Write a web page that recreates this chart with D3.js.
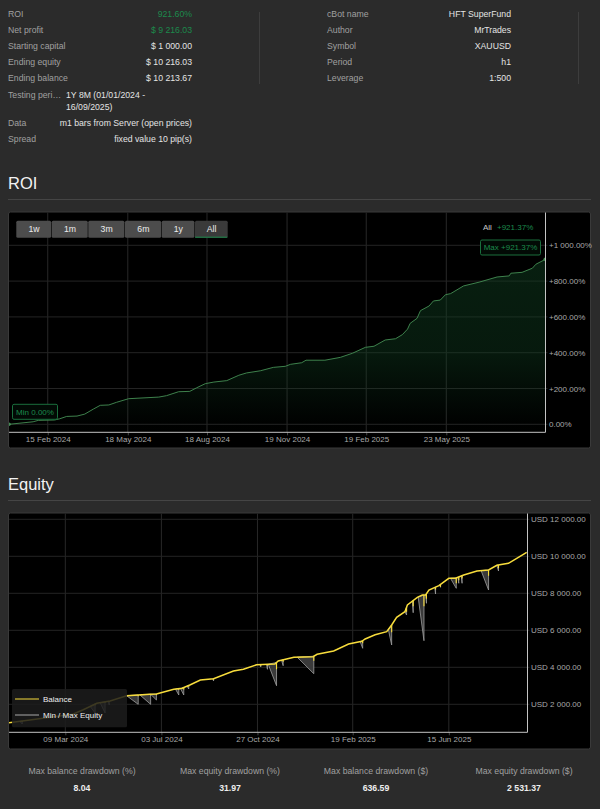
<!DOCTYPE html>
<html>
<head>
<meta charset="utf-8">
<script src="https://cdn.jsdelivr.net/npm/d3@7"></script>
<style>
  html, body { margin: 0; padding: 0; background: #2b2b2b; }
  svg { display: block; font-family: "Liberation Sans", Arial, sans-serif; }
  .domain { display: none; }
  .tick text { fill: #a8a8a8; font-size: 8px; }
</style>
</head>
<body>
<div id="chart"></div>
<script>
// days are counted from the first day of the test, 01/01/2024
const roiDays = [0, 28, 34, 53, 59, 67, 79, 88, 98, 106, 116, 125, 139, 174, 183, 197, 210, 218, 228, 238, 253, 267, 276, 292, 307, 321, 327, 340, 345, 367, 385, 399, 414, 424, 437, 449, 457, 463, 466, 474, 478, 488, 493, 501, 507, 513, 528, 546, 567, 581, 583, 596, 608, 612, 623];
const roiValues = [0, 14, 22, 24, 31, 44, 46, 57, 85, 106, 108, 123, 143, 152, 160, 182, 184, 204, 227, 236, 244, 274, 287, 299, 318, 324, 335, 344, 358, 358, 374, 397, 430, 436, 471, 478, 501, 532, 564, 592, 635, 661, 689, 694, 724, 730, 773, 794, 823, 829, 844, 849, 872, 894, 921.37];

const balanceDays = [0, 41, 77, 89, 106, 122, 142, 156, 170, 178, 199, 209, 219, 231, 247, 271, 283, 299, 321, 325, 344, 367, 372, 392, 410, 426, 430, 442, 456, 462, 468, 478, 481, 493, 499, 503, 507, 519, 531, 539, 549, 565, 579, 589, 603, 613, 625];
const balanceValues = [1000, 1243, 1460, 1692, 2054, 2178, 2465, 2503, 2540, 2557, 2811, 2865, 3059, 3313, 3384, 3800, 3897, 4140, 4178, 4340, 4540, 4573, 4703, 4881, 5259, 5405, 5530, 5762, 5924, 6286, 6702, 7005, 7367, 7783, 7908, 7908, 8178, 8411, 8811, 8811, 8989, 9205, 9259, 9513, 9621, 9892, 10213.67];

// min equity drops: first day, last day, lowest equity, balance after the closing loss
const dipStarts = [13, 98, 110, 120, 142, 158, 171, 201, 207, 215, 246, 303, 311, 313, 329, 348, 424, 458, 478, 487, 494, 503, 514, 520, 533, 542, 546, 570, 589];
const dipEnds = [16, 104, 116, 121, 156, 171, 178, 205, 211, 217, 247, 304, 312, 323, 331, 368, 427, 462, 480, 488, 501, 504, 515, 521, 540, 543, 547, 579, 591];
const dipLows = [935, 1530, 1530, 1962, 2000, 2000, 2232, 2503, 2503, 2827, 3259, 4016, 3892, 3005, 4086, 3654, 5027, 5205, 6827, 6951, 5437, 7459, 7962, 8324, 8270, 8541, 8541, 8178, 9205];
const dipBalanceLows = [1060, 1950, 2080, 2120, 2440, 2490, 2500, 2780, 2800, 2960, 3340, 4090, 4100, 3900, 4300, 4350, 5300, 5900, 7000, 7300, 7300, 7700, 8200, 8350, 8550, 8700, 8800, 8950, 9350];

const roiTickDays = [45, 138, 230, 323, 415, 508];
const roiTicks = [0, 200, 400, 600, 800, 1000];
const equityTickDays = [68, 184, 300, 415, 531];
const equityTicks = [2000, 4000, 6000, 8000, 10000, 12000];

const leftRows = [["ROI", "921.60%"], ["Net profit", "$ 9 216.03"], ["Starting capital", "$ 1 000.00"], ["Ending equity", "$ 10 216.03"], ["Ending balance", "$ 10 213.67"]];
const rightRows = [["cBot name", "HFT SuperFund"], ["Author", "MrTrades"], ["Symbol", "XAUUSD"], ["Period", "h1"], ["Leverage", "1:500"]];
const rangeButtons = ["1w", "1m", "3m", "6m", "1y", "All"];
const buttonEdges = [16.3, 51.7, 88.3, 125, 161.7, 195, 228.3];
const drawdownLabels = ["Max balance drawdown (%)", "Max equity drawdown (%)", "Max balance drawdown ($)", "Max equity drawdown ($)"];
const drawdownValues = ["8.04", "31.97", "636.59", "2 531.37"];
const drawdownCenters = [82, 230, 376, 524];

const GREEN = "#1c8a4c";
const LABEL = "#a0a0a0";
const VALUE = "#e4e4e4";
const YELLOW = "#f7dc3c";

const locale = d3.formatLocale({ decimal: ".", thousands: " ", grouping: [3], currency: ["$", ""] });
const money = locale.format(",.2f");
const dateLabel = d3.utcFormat("%d %b %Y");
const firstDay = new Date(Date.UTC(2024, 0, 1));
const toDate = d => d3.utcDay.offset(firstDay, d);

const svg = d3.select("#chart").append("svg").attr("width", 600).attr("height", 809);
const defs = svg.append("defs");

const text = (x, y, s, o = {}) => svg.append("text")
  .attr("x", x).attr("y", y)
  .attr("fill", o.fill || VALUE)
  .attr("font-size", o.size || 8.7)
  .attr("font-weight", o.weight || null)
  .attr("text-anchor", o.anchor || "start")
  .attr("dominant-baseline", "central")
  .text(s);

// summary tables
const rowY = [13.5, 30, 46, 62, 78];
leftRows.forEach((r, i) => {
  text(8, rowY[i], r[0], { fill: LABEL });
  text(192, rowY[i], r[1], { anchor: "end", fill: i < 2 ? GREEN : VALUE });
});
rightRows.forEach((r, i) => {
  text(327, rowY[i], r[0], { fill: LABEL });
  text(511, rowY[i], r[1], { anchor: "end" });
});
text(8, 94.5, "Testing peri…", { fill: LABEL });
text(66, 94.5, "1Y 8M (01/01/2024 -");
text(66, 106.5, "16/09/2025)");
text(8, 122.5, "Data", { fill: LABEL });
text(192, 122.5, "m1 bars from Server (open prices)", { anchor: "end" });
text(8, 139, "Spread", { fill: LABEL });
text(192, 139, "fixed value 10 pip(s)", { anchor: "end" });

[259.5, 578.5].forEach(x => svg.append("line")
  .attr("x1", x).attr("x2", x).attr("y1", 12).attr("y2", 84).attr("stroke", "#3d3d3d"));

// section titles
[["ROI", 183, 199.5], ["Equity", 484, 500.5]].forEach(([s, y, ruleY]) => {
  text(8, y, s, { size: 16.5, fill: "#f2f2f2" });
  svg.append("line").attr("x1", 8).attr("x2", 591).attr("y1", ruleY).attr("y2", ruleY).attr("stroke", "#454545");
});

// panel, grid, axes, returns the group to draw the marks in
function drawPanel(o) {
  svg.append("rect").attr("x", 8.5).attr("y", o.top - 0.5).attr("width", 582).attr("height", 236)
    .attr("rx", 2).attr("fill", "#000").attr("stroke", "#3a3a3a");

  svg.append("g").attr("transform", `translate(0,${o.bottom})`)
    .call(d3.axisBottom(o.x).tickValues(o.xTicks.map(toDate)).tickFormat(dateLabel).tickSize(3).tickPadding(1))
    .call(g => g.selectAll(".tick line").attr("stroke", "#444"));
  svg.append("g").selectAll("line").data(o.xTicks).join("line")
    .attr("x1", d => o.x(toDate(d))).attr("x2", d => o.x(toDate(d)))
    .attr("y1", o.top).attr("y2", o.bottom).attr("stroke", "#282828");

  svg.append("g").attr("transform", `translate(${o.right},0)`)
    .call(d3.axisRight(o.y).tickValues(o.yTicks).tickFormat(o.yFormat).tickSize(0).tickPadding(3.5));
  svg.append("g").selectAll("line").data(o.yTicks).join("line")
    .attr("x1", o.left).attr("x2", o.right + 2)
    .attr("y1", d => o.y(d)).attr("y2", d => o.y(d)).attr("stroke", "#242424");

  defs.append("clipPath").attr("id", o.id).append("rect")
    .attr("x", o.left).attr("y", o.top).attr("width", o.right - o.left).attr("height", o.bottom - o.top);
  const marks = svg.append("g").attr("clip-path", `url(#${o.id})`);

  svg.append("path").attr("fill", "none").attr("stroke", "#c4c4c4")
    .attr("d", `M${o.left},${o.bottom}H${o.right}V${o.top}`);
  return marks;
}

// ROI chart
const roiX = d3.scaleUtc().domain([firstDay, toDate(623.6)]).range([9, 545.3]);
const roiY = d3.scaleLinear().domain([0, 1000]).range([424.3, 245.3]);
const roiMarks = drawPanel({
  id: "roi-clip", left: 9, right: 545.5, top: 212.5, bottom: 432.3,
  x: roiX, y: roiY, xTicks: roiTickDays, yTicks: roiTicks,
  yFormat: d => d === 0 ? "0.00%" : `+${money(d)}%`
});

const roiGradient = defs.append("linearGradient").attr("id", "roi-fill")
  .attr("gradientUnits", "userSpaceOnUse").attr("x1", 0).attr("x2", 0)
  .attr("y1", roiY(900)).attr("y2", roiY(0));
roiGradient.append("stop").attr("offset", 0).attr("stop-color", "#0f3d20").attr("stop-opacity", 0.5);
roiGradient.append("stop").attr("offset", 0.55).attr("stop-color", "#0f3d20").attr("stop-opacity", 0.42);
roiGradient.append("stop").attr("offset", 1).attr("stop-color", "#0f3d20").attr("stop-opacity", 0.02);

const roiPoints = roiDays.map((d, i) => [toDate(d), roiValues[i]]);
roiMarks.append("path").datum(roiPoints)
  .attr("fill", "url(#roi-fill)")
  .attr("d", d3.area().x(d => roiX(d[0])).y1(d => roiY(d[1])).y0(432.3));
roiMarks.append("path").datum(roiPoints)
  .attr("fill", "none").attr("stroke", "#458f55").attr("stroke-width", 0.9)
  .attr("d", d3.line().x(d => roiX(d[0])).y(d => roiY(d[1])));
[roiPoints[0], roiPoints[roiPoints.length - 1]].forEach(p => roiMarks.append("circle")
  .attr("cx", roiX(p[0])).attr("cy", roiY(p[1])).attr("r", 1.8).attr("fill", "#458f55"));

// range buttons
rangeButtons.forEach((b, i) => {
  const active = b === "All";
  svg.append("rect").attr("x", buttonEdges[i]).attr("y", 220.7)
    .attr("width", buttonEdges[i + 1] - buttonEdges[i] - 0.6).attr("height", 17)
    .attr("rx", 1.5).attr("fill", active ? "#3a3a3a" : "#4c4c4c");
  if (active) svg.append("line").attr("x1", buttonEdges[i]).attr("x2", buttonEdges[i + 1] - 1)
    .attr("y1", 237.2).attr("y2", 237.2).attr("stroke", GREEN);
  text((buttonEdges[i] + buttonEdges[i + 1]) / 2, 229.3, b, { anchor: "middle", fill: "#ececec" });
});

text(483, 227, "All", { fill: "#c8c8c8", size: 8 });
text(497, 227, "+921.37%", { fill: GREEN, size: 8 });

const badge = (x, y, w, s) => {
  svg.append("rect").attr("x", x).attr("y", y).attr("width", w).attr("height", 15)
    .attr("rx", 1.5).attr("fill", "#020a05").attr("stroke", "#1a6e3d");
  text(x + w / 2, y + 7.7, s, { anchor: "middle", fill: GREEN, size: 8 });
};
badge(480.5, 240, 60, "Max +921.37%");
badge(12.5, 404.3, 45, "Min 0.00%");

// equity chart
const eqX = d3.scaleUtc().domain([firstDay, toDate(626)]).range([9, 527.5]);
const eqY = d3.scaleLinear().domain([2000, 12000]).range([704.3, 519.3]);
const eqMarks = drawPanel({
  id: "eq-clip", left: 9, right: 527.5, top: 513.5, bottom: 732.3,
  x: eqX, y: eqY, xTicks: equityTickDays, yTicks: equityTicks,
  yFormat: d => `USD ${money(d)}`
});

const balanceAt = d3.scaleLinear().domain(balanceDays).range(balanceValues);
dipStarts.forEach((start, i) => {
  const end = dipEnds[i];
  eqMarks.append("path")
    .attr("fill", "#3a3a3a").attr("stroke", "#a0a0a0").attr("stroke-width", 0.8)
    .attr("d", d3.line()([
      [eqX(toDate(start)), eqY(balanceAt(start))],
      [eqX(toDate(end)), eqY(dipLows[i])],
      [eqX(toDate(end)), eqY(balanceAt(end))]
    ]) + "Z");
});
eqMarks.append("path").datum(balanceDays)
  .attr("fill", "none").attr("stroke", YELLOW).attr("stroke-width", 1.5)
  .attr("d", d3.line().x(d => eqX(toDate(d))).y((d, i) => eqY(balanceValues[i])));
// balance steps down where the losing trades close
eqMarks.append("g").selectAll("line").data(dipEnds).join("line")
  .attr("x1", d => eqX(toDate(d))).attr("x2", d => eqX(toDate(d)))
  .attr("y1", d => eqY(balanceAt(d))).attr("y2", (d, i) => eqY(dipBalanceLows[i]))
  .attr("stroke", YELLOW).attr("stroke-width", 1.1);

// legend
svg.append("rect").attr("x", 12).attr("y", 689).attr("width", 115).attr("height", 38.3)
  .attr("rx", 1.5).attr("fill", "#1c1c1c").attr("fill-opacity", 0.85);
[["Balance", YELLOW, 699], ["Min / Max Equity", "#a8a8a8", 715]].forEach(([s, c, y]) => {
  svg.append("line").attr("x1", 15).attr("x2", 39).attr("y1", y).attr("y2", y).attr("stroke", c);
  text(43, y, s, { size: 8, fill: "#eee" });
});

// drawdown summary
drawdownLabels.forEach((s, i) => {
  text(drawdownCenters[i], 771, s, { anchor: "middle", fill: LABEL });
  text(drawdownCenters[i], 788, drawdownValues[i], { anchor: "middle", weight: "bold", fill: "#eee" });
});
</script>
</body>
</html>
